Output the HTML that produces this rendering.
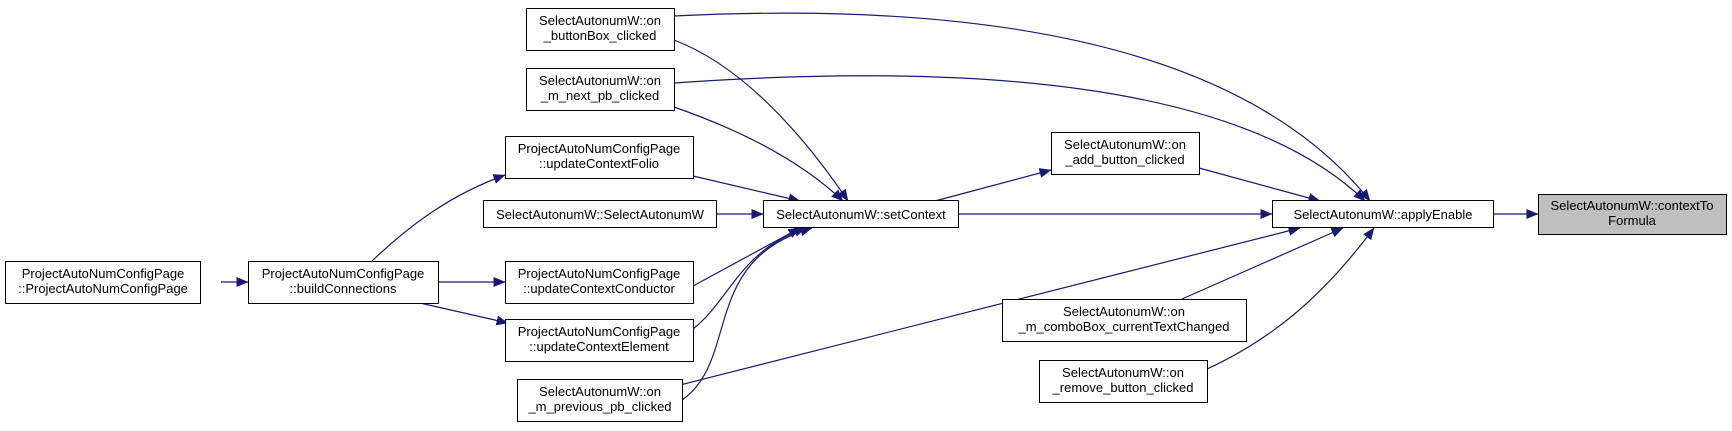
<!DOCTYPE html>
<html><head><meta charset="utf-8"><style>
body{margin:0;background:#fff;width:1732px;height:431px;overflow:hidden}
svg{display:block}
text{font-family:"Liberation Sans",Arial,sans-serif;font-size:13px;fill:#000}
</style></head><body>
<svg width="1732" height="431" viewBox="0 0 1732 431">
<defs><marker id="a" markerWidth="12" markerHeight="10" refX="11.5" refY="5" orient="auto" markerUnits="userSpaceOnUse"><path d="M0,0 L12,5 L0,10 Z" fill="#191970"/></marker></defs>
<g fill="none" stroke="#191970" stroke-width="1.2" marker-end="url(#a)">
<path d="M221,282 L248,282"/>
<path d="M372,261 C410,225 450,195 505,175"/>
<path d="M438,282 L505,282"/>
<path d="M420,303 L508,323"/>
<path d="M674,40 C740,65 800,130 848,201"/>
<path d="M674,107 C740,130 800,160 843,201"/>
<path d="M693,176 L800,201"/>
<path d="M716,214 L763,214"/>
<path d="M693,286 L800,228"/>
<path d="M693,329 C730,300 740,250 806,228"/>
<path d="M682,400 C740,360 700,260 812,228"/>
<path d="M935,201 L1051,170"/>
<path d="M959,214 L1272,214"/>
<path d="M674,16 C1000,0 1250,50 1370,201"/>
<path d="M674,83 C1000,60 1250,90 1365,201"/>
<path d="M1199,168 L1320,201"/>
<path d="M676,386 L1300,228"/>
<path d="M1182,299 L1343,228"/>
<path d="M1205,370 C1270,340 1320,300 1374,228"/>
<path d="M1494,214 L1538,214"/>
</g>
<g stroke="#000" stroke-width="1" fill="#fff">
<rect x="526.5" y="8.5" width="148" height="42"/>
<rect x="526.5" y="68.5" width="148" height="42"/>
<rect x="505.5" y="136.5" width="188" height="42"/>
<rect x="483.5" y="200.5" width="233" height="27"/>
<rect x="505.5" y="261.5" width="188" height="42"/>
<rect x="505.5" y="319.5" width="188" height="42"/>
<rect x="517.5" y="379.5" width="165" height="42"/>
<rect x="5.5" y="261.5" width="195" height="42"/>
<rect x="248.5" y="261.5" width="190" height="42"/>
<rect x="763.5" y="200.5" width="195" height="27"/>
<rect x="1051.5" y="132.5" width="148" height="42"/>
<rect x="1272.5" y="200.5" width="221" height="27"/>
<rect x="1002.5" y="299.5" width="244" height="42"/>
<rect x="1039.5" y="360.5" width="168" height="42"/>
<rect x="1538.5" y="194.5" width="188" height="40" fill="#bfbfbf"/>
</g>
<g text-anchor="middle">
<text x="600" y="25">SelectAutonumW::on</text><text x="600" y="40">_buttonBox_clicked</text>
<text x="600" y="85">SelectAutonumW::on</text><text x="600" y="100">_m_next_pb_clicked</text>
<text x="599" y="153">ProjectAutoNumConfigPage</text><text x="599" y="168">::updateContextFolio</text>
<text x="600" y="219">SelectAutonumW::SelectAutonumW</text>
<text x="599" y="278">ProjectAutoNumConfigPage</text><text x="599" y="293">::updateContextConductor</text>
<text x="599" y="336">ProjectAutoNumConfigPage</text><text x="599" y="351">::updateContextElement</text>
<text x="600" y="396">SelectAutonumW::on</text><text x="600" y="411">_m_previous_pb_clicked</text>
<text x="103" y="278">ProjectAutoNumConfigPage</text><text x="103" y="293">::ProjectAutoNumConfigPage</text>
<text x="343" y="278">ProjectAutoNumConfigPage</text><text x="343" y="293">::buildConnections</text>
<text x="861" y="219">SelectAutonumW::setContext</text>
<text x="1125" y="149">SelectAutonumW::on</text><text x="1125" y="164">_add_button_clicked</text>
<text x="1383" y="219">SelectAutonumW::applyEnable</text>
<text x="1124" y="316">SelectAutonumW::on</text><text x="1124" y="331">_m_comboBox_currentTextChanged</text>
<text x="1123" y="377">SelectAutonumW::on</text><text x="1123" y="392">_remove_button_clicked</text>
<text x="1632" y="210">SelectAutonumW::contextTo</text><text x="1632" y="225">Formula</text>
</g>
</svg>
</body></html>
